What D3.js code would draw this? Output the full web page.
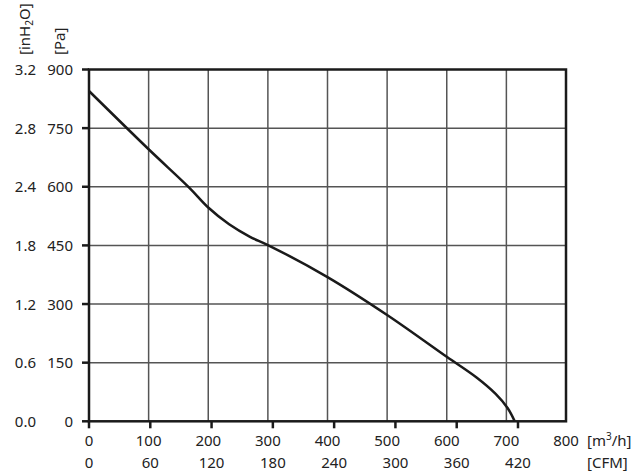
<!DOCTYPE html>
<html><head><meta charset="utf-8">
<script src="https://cdn.jsdelivr.net/npm/d3@7"></script>
<style>
html,body{margin:0;padding:0;background:#fff;}
svg text{font-family:"Noto Sans",sans-serif;font-size:15px;fill:#222;}
</style></head>
<body>
<svg id="chart" width="640" height="476"></svg>
<script>
// Data
const flowM3h = [0, 100, 168, 200, 235, 270, 300, 400, 500, 600, 650, 682, 702, 714];
const pressurePa = [845, 696, 598, 547, 504, 472, 451, 369, 272, 165, 112, 70, 34, 0];
const xTicksM3h = [0, 100, 200, 300, 400, 500, 600, 700, 800];
const xTicksCFM = [0, 60, 120, 180, 240, 300, 360, 420];
const yTicksPa = [0, 150, 300, 450, 600, 750, 900];
const yLabelsInH2O = ["0.0", "0.6", "1.2", "1.8", "2.4", "2.8", "3.2"];

const svg = d3.select("#chart");
const L = 89, R = 566, T = 69.5, B = 421.3;
const x = d3.scaleLinear().domain([0, 800]).range([L, R]);
const xc = d3.scaleLinear().domain([0, 467]).range([L, R]);
const y = d3.scaleLinear().domain([0, 900]).range([B, T]);

// grid
const g = svg.append("g");
g.selectAll("line.vg").data(xTicksM3h.filter(d => d > 0 && d < 800)).enter().append("line")
  .attr("x1", d => x(d)).attr("x2", d => x(d)).attr("y1", T).attr("y2", B)
  .attr("stroke", "#555").attr("stroke-width", 1.5);
g.selectAll("line.hg").data(yTicksPa.filter(d => d > 0 && d < 900)).enter().append("line")
  .attr("x1", L).attr("x2", R).attr("y1", d => y(d)).attr("y2", d => y(d))
  .attr("stroke", "#555").attr("stroke-width", 1.5);

// y ticks (left)
g.selectAll("line.yt").data(yTicksPa).enter().append("line")
  .attr("x1", L - 7).attr("x2", L).attr("y1", d => y(d)).attr("y2", d => y(d))
  .attr("stroke", "#1a1a1a").attr("stroke-width", 2.5);
// x ticks (CFM positions, below)
g.selectAll("line.xt").data(xTicksCFM).enter().append("line")
  .attr("x1", d => xc(d)).attr("x2", d => xc(d)).attr("y1", B).attr("y2", B + 7)
  .attr("stroke", "#1a1a1a").attr("stroke-width", 2.5);

// frame
svg.append("rect").attr("x", L).attr("y", T).attr("width", R - L).attr("height", B - T)
  .attr("fill", "none").attr("stroke", "#1a1a1a").attr("stroke-width", 2.5);

// curve
const line = d3.line().x((d, i) => x(flowM3h[i])).y(d => y(d)).curve(d3.curveCatmullRom.alpha(0.5));
svg.append("path").attr("d", line(pressurePa)).attr("fill", "none")
  .attr("stroke", "#1a1a1a").attr("stroke-width", 2.5).attr("stroke-linejoin", "round");

// x labels
svg.selectAll("text.xm").data(xTicksM3h).enter().append("text")
  .attr("x", d => x(d)).attr("y", 446).attr("text-anchor", "middle").text(d => d);
svg.selectAll("text.xc").data(xTicksCFM).enter().append("text")
  .attr("x", d => xc(d)).attr("y", 468).attr("text-anchor", "middle").text(d => d);
const u1 = svg.append("text").attr("x", 587).attr("y", 446);
u1.append("tspan").text("[m");
u1.append("tspan").attr("font-size", "10px").attr("dy", -6).text("3");
u1.append("tspan").attr("dy", 6).text("/h]");
svg.append("text").attr("x", 587).attr("y", 468).text("[CFM]");

// y labels
svg.selectAll("text.yp").data(yTicksPa).enter().append("text")
  .attr("x", 73).attr("y", d => y(d) + 5.5).attr("text-anchor", "end").text(d => d);
svg.selectAll("text.yi").data(yLabelsInH2O).enter().append("text")
  .attr("x", 36).attr("y", (d, i) => y(yTicksPa[i]) + 5.5).attr("text-anchor", "end").text(d => d);

const a1 = svg.append("text").attr("transform", "translate(30,55) rotate(-90)");
a1.append("tspan").text("[inH");
a1.append("tspan").attr("font-size", "10px").attr("dy", 3).text("2");
a1.append("tspan").attr("dy", -3).text("O]");
svg.append("text").attr("transform", "translate(65,55) rotate(-90)").text("[Pa]");
</script>
</body></html>
